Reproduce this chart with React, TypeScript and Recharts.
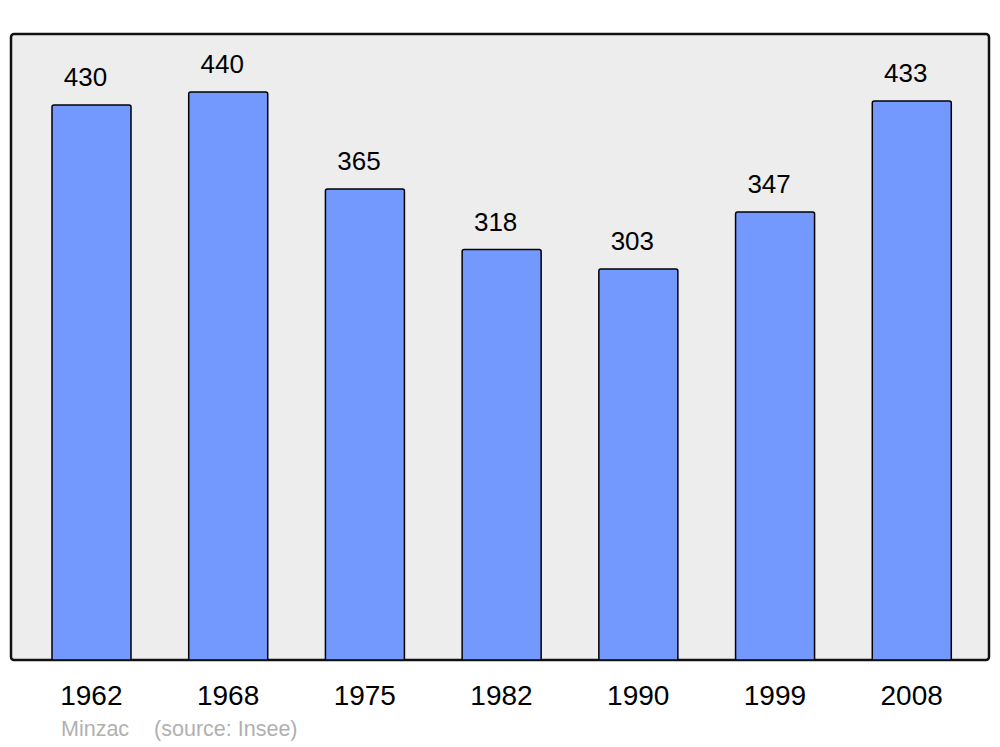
import React from 'react';
import { BarChart, Bar, XAxis, YAxis, LabelList, ReferenceArea } from 'recharts';

const years = ['1962', '1968', '1975', '1982', '1990', '1999', '2008'];
const population = [430, 440, 365, 318, 303, 347, 433];

const data = years.map((y, i) => ({ year: y, value: population[i] }));

const FONT = '"Liberation Sans", Arial, sans-serif';

export default function App() {
  return (
    <div style={{ position: 'absolute', left: 0, top: 0, width: 1000, height: 747, background: '#fff', fontFamily: FONT }}>
      <BarChart
        width={1000}
        height={747}
        data={data}
        margin={{ top: 34, right: 11, bottom: 47, left: 11 }}
      >
        <YAxis hide domain={[0, 485]} type="number" allowDataOverflow />
        <XAxis
          dataKey="year"
          axisLine={false}
          tickLine={false}
          tickSize={0}
          tickMargin={25}
          height={40}
          interval={0}
          padding={{ left: 12, right: 9 }}
          tick={{ fontSize: 28, fill: '#000', fontFamily: FONT }}
        />
        <XAxis xAxisId="frame" dataKey="frameX" type="number" domain={[0, 1]} allowDataOverflow hide />
        <ReferenceArea
          xAxisId="frame"
          x1={0}
          x2={1}
          y1={0}
          y2={485}
          fill="#ededed"
          fillOpacity={1}
          stroke="#111"
          strokeWidth={2.5}
          radius={3}
          ifOverflow="visible"
        />
        <Bar
          dataKey="value"
          fill="#7399ff"
          stroke="#000"
          strokeWidth={1.5}
          barSize={79}
          radius={[2, 2, 0, 0]}
          isAnimationActive={false}
        >
          <LabelList
            dataKey="value"
            position="top"
            offset={19}
            dx={-6}
            style={{ fontSize: 26, fill: '#000', fontFamily: FONT }}
          />
        </Bar>
      </BarChart>
      <div style={{ position: 'absolute', left: 61, top: 717, fontSize: 21.5, color: '#b0b0b0', fontFamily: FONT, whiteSpace: 'pre' }}>
        <span>Minzac</span>
        <span style={{ marginLeft: 25 }}>(source: Insee)</span>
      </div>
    </div>
  );
}
